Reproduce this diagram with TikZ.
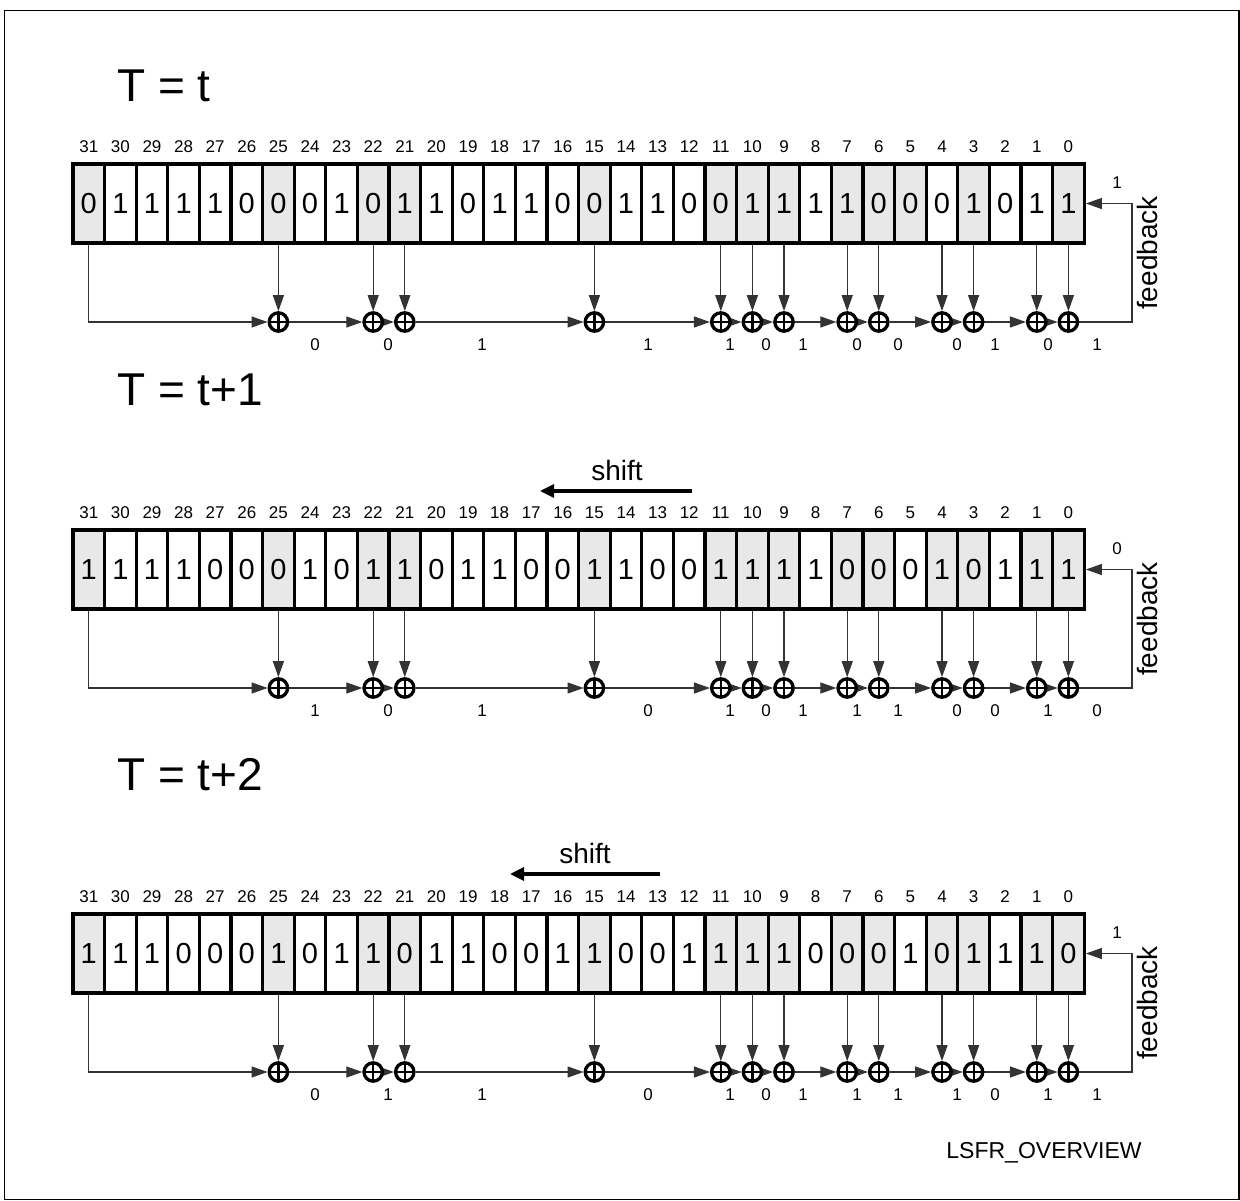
\documentclass[tikz,border=0pt]{standalone}
\usepackage{fontspec}
\setmainfont{Liberation Sans}
\usetikzlibrary{arrows.meta}
\pgfdeclarelayer{bg}
\pgfsetlayers{bg,main}
\definecolor{tapfill}{RGB}{232,232,232}
\tikzset{
  cell/.style={draw, line width=3.3pt, minimum width=31.6pt, minimum height=79pt,
    inner sep=0pt, font=\fontsize{29}{29}\selectfont},
  bitnum/.style={font=\fontsize{17}{17}\selectfont, inner sep=0pt},
  bigtext/.style={font=\fontsize{28}{28}\selectfont, inner sep=0pt},
  titletext/.style={font=\fontsize{46}{46}\selectfont, inner sep=0pt, anchor=base west},
  xor/.style={circle, draw, line width=3.3pt, minimum size=18.4pt, inner sep=0pt, fill=white,
    path picture={\draw[line width=2.2pt]
      (path picture bounding box.north) -- (path picture bounding box.south)
      (path picture bounding box.west) -- (path picture bounding box.east);}},
  wire/.style={line width=1.2pt, draw=black!80},
  arr/.style={wire, -{Triangle[length=16pt,width=11pt]}},
  shiftarr/.style={line width=3.2pt, -{Triangle[length=14pt,width=13pt]}},
}
\newcommand\lfsrrow[6]{%
  % #1 name, #2 dy, #3 values (bit31..bit0), #4 shading array, #5 labels, #6 feedback label
  \foreach \v [count=\k from 0] in {#3} {
    \pgfmathtruncatemacro\bb{31-\k}
    \pgfmathtruncatemacro\sh{{#4}[\k]}
    \ifnum\sh=1 \def\cf{tapfill}\else\def\cf{white}\fi
    \node[cell, fill=\cf] (#1-\bb) at ({73+(\k+0.5)*31.6},{203.5+#2}) {\v};
    \node[bitnum] (#1-n\bb) at ({73+(\k+0.5)*31.6},{147+#2}) {\bb};
  }
  \foreach \t in {25,22,21,15,11,10,9,7,6,4,3,1,0} {
    \node[xor] (#1-x\t) at ({73+(31.5-\t)*31.6},{322+#2}) {};
    \begin{pgfonlayer}{bg}
      \draw[arr] (#1-\t.south) -- (#1-x\t.north);
    \end{pgfonlayer}
  }
  \begin{pgfonlayer}{bg}
    \draw[arr] (#1-31.south) |- (#1-x25.west);
    \foreach \a/\b in {25/22,22/21,21/15,15/11,11/10,10/9,9/7,7/6,6/4,4/3,3/1,1/0}
      \draw[arr] (#1-x\a.east) -- (#1-x\b.west);
    \coordinate (#1-fb) at (1132,{322+#2});
    \draw[arr] (#1-x0.east) -- (#1-fb) |- (#1-0.east);
  \end{pgfonlayer}
  \foreach \l [count=\j from 0] in {#5} {
    \pgfmathsetmacro\lx{{315,388,482,648,730,766,803,857,898,957,995,1048,1097}[\j]}
    \node[bitnum] (#1-l\j) at (\lx,{345+#2}) {\l};
  }
  \node[bitnum] (#1-fbl) at (1117,{183+#2}) {#6};
  \node[bigtext, rotate=90, anchor=base] (#1-fbt) at (1157,{253+#2}) {feedback};
}
\begin{document}
\begin{tikzpicture}[x=1pt,y=-1pt]
  \useasboundingbox (0,0) rectangle (1240,1201);
  \draw[line width=1.5pt] (4.5,10.5) rectangle (1238.8,1199.5);

  \node[titletext] (t1) at (117,102) {T = t};
  \lfsrrow{A}{0}{0,1,1,1,1,0,0,0,1,0,1,1,0,1,1,0,0,1,1,0,0,1,1,1,1,0,0,0,1,0,1,1}%
    {1,0,0,0,0,0,1,0,0,1,1,0,0,0,0,0,1,0,0,0,1,1,1,0,1,1,1,0,1,0,0,1}%
    {0,0,1,1,1,0,1,0,0,0,1,0,1}{1}

  \node[titletext] (t2) at (117,405) {T = t+1};
  \node[bigtext, anchor=base] (s2) at (617,480) {shift};
  \coordinate (s2a) at (692,491);
  \coordinate (s2b) at (540,491);
  \draw[shiftarr] (s2a) -- (s2b);
  \lfsrrow{B}{366}{1,1,1,1,0,0,0,1,0,1,1,0,1,1,0,0,1,1,0,0,1,1,1,1,0,0,0,1,0,1,1,1}%
    {1,0,0,0,0,0,1,0,0,1,1,0,0,0,0,0,1,0,0,0,1,1,1,0,1,1,0,1,1,0,1,1}%
    {1,0,1,0,1,0,1,1,1,0,0,1,0}{0}

  \node[titletext] (t3) at (117,790) {T = t+2};
  \node[bigtext, anchor=base] (s3) at (585,863) {shift};
  \coordinate (s3a) at (660,874);
  \coordinate (s3b) at (510,874);
  \draw[shiftarr] (s3a) -- (s3b);
  \lfsrrow{C}{750}{1,1,1,0,0,0,1,0,1,1,0,1,1,0,0,1,1,0,0,1,1,1,1,0,0,0,1,0,1,1,1,0}%
    {1,0,0,0,0,0,1,0,0,1,1,0,0,0,0,0,1,0,0,0,1,1,1,0,1,1,0,1,1,0,1,1}%
    {0,1,1,0,1,0,1,1,1,1,0,1,1}{1}

  \node[font=\fontsize{23}{23}\selectfont, inner sep=0pt, anchor=base] (ov) at (1044,1158) {LSFR\_OVERVIEW};
\end{tikzpicture}
\end{document}
